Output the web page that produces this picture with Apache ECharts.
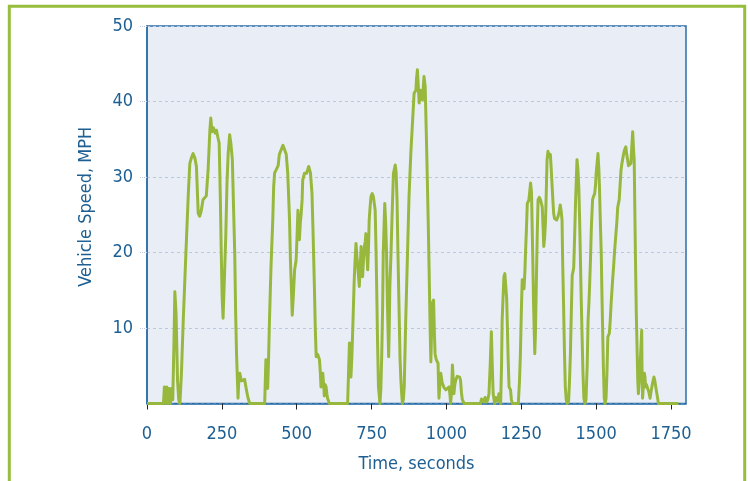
<!DOCTYPE html>
<html>
<head>
<meta charset="utf-8">
<script src="https://cdn.jsdelivr.net/npm/echarts@6/dist/echarts.min.js"></script>
<style>
  html, body {margin: 0; padding: 0; background: #fff;}
  #chart {width: 748px; height: 481px;}
</style>
</head>
<body>
<div id="chart"></div>
<script>
// time (s) and speed (mph)
var timeSec = [0,55,58,62,66,70,74,78,82,86,90,93,97,102,106,110,115,121,127,132,138,143,148,154,160,165,171,176,181,187,193,198,204,210,213,217,222,228,232,237,241,245,248,251,254,258,263,267,271,276,280,285,289,293,296,299,302,304,307,310,315,321,326,332,337,343,
  393,397,400,403,406,409,414,420,423,426,432,438,442,448,454,459,465,470,476,479,482,485,489,493,498,501,504,507,509,512,515,518,520,526,533,540,546,551,555,559,562,565,570,576,579,581,584,587,590,592,595,598,601,603,609,
  670,673,676,679,681,684,687,692,695,698,701,704,707,709,712,715,718,720,723,726,729,731,734,737,740,742,745,748,752,756,759,762,765,767,770,773,778,781,784,787,789,792,794,797,800,803,807,809,811,815,818,821,823,826,829,832,835,838,842,845,848,851,853,856,859,864,870,875,881,887,892,898,900,903,906,909,914,917,920,925,929,933,936,939,942,944,946,948,950,953,957,960,962,966,969,972,974,975,978,981,984,986,992,998,1004,1009,1012,1014,1017,1020,1023,1025,1028,1031,1036,1040,1044,1047,1050,1053,1059,
  1114,1117,1120,1124,1129,1134,1138,1142,1146,1150,1153,1156,1161,1165,1169,1172,1175,1178,1181,1184,1186,1189,1192,1195,1198,1201,1203,1206,1209,1214,1217,1220,
  1240,1244,1247,1250,1253,1256,1259,1262,1264,1267,1270,1275,1278,1281,1284,1286,1288,1291,1295,1297,1300,1303,1306,1310,1314,1317,1320,1323,1325,1328,1331,1334,1336,1339,1342,1345,1347,1350,1353,1356,1358,1361,1364,1368,1373,1377,1380,1383,1386,1388,1391,1394,1397,1400,1403,1408,1411,1414,1417,1420,1423,1425,1428,1431,1434,1436,1439,1442,1445,1447,1450,1453,1456,1459,1462,1466,1470,1473,1476,1478,1481,1484,1488,1491,1495,1498,1500,1503,1506,1509,1511,1514,1517,1519,1521,1524,1527,1530,1533,1536,1539,1541,1544,1547,1550,1555,1558,1561,1566,1569,1572,1577,1580,1583,1586,1590,1594,1599,1602,1605,1608,1611,1616,1619,1622,1625,1627,1629,1631,1634,1637,1639,1641,1644,1646,1649,1652,1653,1655,1658,1661,1663,1665,1668,1672,1676,1680,1683,1686,1690,1693,1696,1699,1704,1708,1775];

var speedMph = [0,0,2.2,0,2.2,0,2,0,2,0.5,8,14.8,12,3,0.5,0,4,11,17,22,27.8,31.8,32.5,33.1,32.5,31.4,25.2,24.8,25.5,27,27.2,27.5,30.9,36.2,37.8,36,36.5,35.8,36.2,35.2,34.5,27,19.9,14,11.3,16,22.1,29,33.1,35.6,34.5,32.3,26,19.9,12,6.6,3,0.7,3.5,4,3,2.8,3.2,1.8,0.8,0,
  0,5.8,4,2,6,11,18,24.3,28.7,30.5,30.6,31.5,33,33.6,34.2,34.2,33,30.5,24.3,19,15.5,11.7,14.5,17.7,19,22,25.6,23,21.7,24,25.2,27,29.6,30.5,30.5,31.4,30.5,27.8,22,15.5,10,6.2,6.5,5.8,4,2.2,3.5,4,2.5,1,2.5,2.2,1.2,0.7,0,
  0,4,8,6,3.5,6,9.7,16.4,19,21.2,19.5,18.1,16.5,15.5,18,20.8,18,16.8,19,20.8,21.5,22.5,20,17.7,21,24.3,26,27.4,27.8,27.4,26.5,25.6,20,15.5,8,2.2,0,2,6.6,13,19.9,24,26.5,24,19.9,13,6.2,10,15.5,20,24.3,28,30.5,31,31.6,30.6,27,20,12,6,3,1,0,0.5,2.2,11,19.9,27.4,33.1,37.5,41.1,41.5,43,44.2,42,39.8,41.5,40.6,40.2,43.3,42,35.3,30,24.3,18,13.3,9,5.5,9,13.3,13.7,9,6.6,5.8,5.6,5.3,2,0.7,2.5,4,3.2,2.7,2.1,1.8,2,2.2,1,0,1.5,5.1,3,1.3,2.5,3.1,3.6,3.8,3.5,3.1,1.5,0.5,0,
  0,0.6,0.7,0.2,0.8,0.2,0.5,1.3,5,9.5,5,1.3,0,0.8,0.9,0.3,1.3,0.5,0,5,11,14,16.8,17.2,17,14,11,6,2.2,1.8,0.5,0,
  0,3,6.6,12,16.4,15.8,15.2,17.5,19.9,23,26.5,26.9,28,29.2,28,24,19.9,13,6.6,9,15.5,22,27,27.3,27,26.5,26,23,20.8,22,24.3,29,32.3,33.4,33.6,32.6,33,31,28.7,26.5,25.2,24.5,24.3,24.3,24.8,25.5,26.3,25.5,24.3,19,13.3,7,2.2,0.5,0,0.3,3,6.6,12,17,17.5,18,22,26.5,30,32.3,31,28.7,24,19.9,14,8.8,4,0.7,0,0.5,5,11,13.5,15.5,19,23.4,27,27.4,27.8,29,30.5,31.8,33.1,31,28.7,24,19.9,15,11,5,0.7,0,0.7,4,8.8,9,9.3,11,13.3,16.4,18,19.9,22.5,24,26,27,29,30.9,31.8,32.7,33.5,34,33,32.3,31.5,31.4,31.8,34,36,33.5,32.3,26,19.9,12,6.6,3,1.3,3,4.4,7,9.7,5,0.7,2.5,4,3.5,2.2,2.5,2.7,1.5,0.7,1.5,2.2,3,3.5,3,2.2,1,0,0];

var xTicks = [0, 250, 500, 750, 1000, 1250, 1500, 1750];
var yTicks = [10, 20, 30, 40, 50];

var textBlue = '#1d5f93';
var frameBlue = '#2b6ea6';
var lineGreen = '#97b83d';
var fontName = "'DejaVu Sans Condensed', 'Liberation Sans Narrow', sans-serif";

var chart = echarts.init(document.getElementById('chart'));

chart.setOption({
    animation: false,
    backgroundColor: '#ffffff',
    textStyle: {fontFamily: fontName},
    graphic: [{
        type: 'rect',
        silent: true,
        shape: {x: 9.3, y: 6.2, width: 735.4, height: 500},
        style: {fill: 'none', stroke: '#97bd3d', lineWidth: 3}
    }],
    grid: {
        left: 147, right: 62, top: 26, bottom: 77.5,
        show: true,
        backgroundColor: '#e9eef6',
        borderColor: frameBlue,
        borderWidth: 1.5
    },
    xAxis: {
        type: 'value',
        min: 0, max: 1800, interval: 250,
        name: 'Time, seconds',
        nameLocation: 'middle',
        nameGap: 52,
        nameTextStyle: {color: textBlue, fontSize: 18, fontFamily: fontName},
        axisLine: {show: true, lineStyle: {color: frameBlue, width: 1.5}},
        axisTick: {show: true, length: 6, lineStyle: {color: '#222', width: 1}},
        axisLabel: {
            color: textBlue, fontSize: 18, margin: 22, fontFamily: fontName,
            showMaxLabel: false,
            formatter: function (v) { return xTicks.indexOf(v) >= 0 ? String(v) : ''; }
        },
        splitLine: {show: false}
    },
    yAxis: {
        type: 'value',
        min: 0, max: 50, interval: 10,
        name: 'Vehicle Speed, MPH',
        nameLocation: 'middle',
        nameGap: 52,
        nameTextStyle: {color: textBlue, fontSize: 18, fontFamily: fontName, padding: [0, 0, 0, 16]},
        axisLine: {show: true, lineStyle: {color: frameBlue, width: 1.5}},
        axisTick: {show: true, length: 8, lineStyle: {color: '#c0cde0', type: 'dotted', width: 1}},
        axisLabel: {
            color: textBlue, fontSize: 18, margin: 14, fontFamily: fontName,
            showMinLabel: false,
            formatter: function (v) { return yTicks.indexOf(v) >= 0 ? String(v) : ''; }
        },
        splitLine: {show: true, lineStyle: {color: '#b9c8dc', type: [3, 3], width: 1}}
    },
    series: [{
        type: 'line',
        data: timeSec.map(function (t, i) { return [t, speedMph[i]]; }),
        showSymbol: false,
        smooth: false,
        clip: true,
        lineStyle: {color: lineGreen, width: 3, join: 'round'},
        itemStyle: {color: lineGreen}
    }]
});
</script>
</body>
</html>
